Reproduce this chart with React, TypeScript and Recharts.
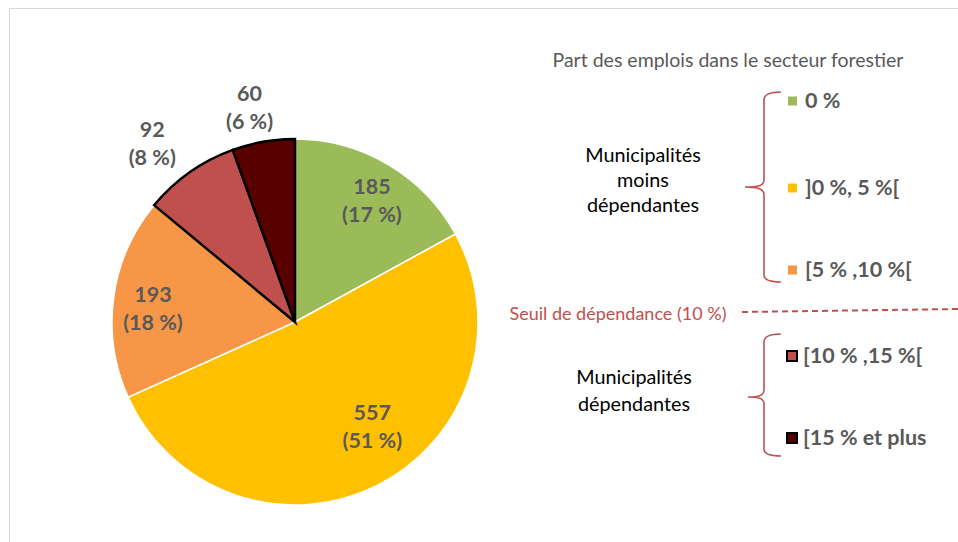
import { PieChart, Pie, Cell } from "recharts";

const categories = ["0 %", "]0 %, 5 %[", "[5 % ,10 %[", "[10 % ,15 %[", "[15 % et plus"];
const counts = [185, 557, 193, 92, 60];
const colors = ["#9BBB59", "#FFC000", "#F79646", "#C0504D", "#580000"];
const strokes = ["#ffffff", "#ffffff", "#ffffff", "#000000", "#000000"];
// label distance from centre (share of radius) and angle nudge, Excel best-fit look
const labelRadius = [0.79, 0.71, 0.78, 1.25, 1.2];
const labelShift = [-1.5, 10, 2, 3.5, 2];

const legendTitle = "Part des emplois dans le secteur forestier";
const groupLow = ["Municipalités", "moins", "dépendantes"];
const groupHigh = ["Municipalités", "dépendantes"];
const thresholdLabel = "Seuil de dépendance (10 %)";

const total = counts.reduce((a, b) => a + b, 0);
const data = categories.map((name, i) => ({ name, value: counts[i] }));

const FONT = "Lato, 'Open Sans', sans-serif";
const RAD = Math.PI / 180;
const BRACE = "#C0504D";

const renderLabel = (props: any) => {
  const { cx, cy, midAngle, outerRadius, index, value } = props;
  const r = outerRadius * labelRadius[index];
  const a = (midAngle + labelShift[index]) * RAD;
  const x = cx + r * Math.cos(-a);
  const y = cy + r * Math.sin(-a);
  const pct = Math.round((value / total) * 100);
  return (
    <text
      x={x}
      y={y}
      textAnchor="middle"
      fontFamily={FONT}
      fontWeight={700}
      fontSize={21.5}
      fill="#595959"
    >
      <tspan x={x} dy={-6}>{value}</tspan>
      <tspan x={x} dy={28}>({pct} %)</tspan>
    </text>
  );
};

function Legend() {
  const rows = [101, 188, 270, 356, 438];
  return (
    <svg
      width={958}
      height={542}
      style={{ position: "absolute", left: 0, top: 0, pointerEvents: "none" }}
    >
      <text x={728} y={67} textAnchor="middle" fontFamily={FONT} fontSize={19.5} fill="#595959">
        {legendTitle}
      </text>

      {/* upper brace */}
      <path
        d="M781,92 C770,92 764,94 764,100 L764,180 C764,186 758,187 745,187 C758,187 764,189 764,195 L764,275 C764,280 770,282 781,282"
        fill="none"
        stroke={BRACE}
        strokeWidth={1.6}
      />
      {/* lower brace */}
      <path
        d="M781,334 C770,334 764,336 764,342 L764,390 C764,396 758,397 748,397 C758,397 764,398 764,404 L764,449 C764,454 770,456 781,456"
        fill="none"
        stroke={BRACE}
        strokeWidth={1.6}
      />

      {groupLow.map((t, i) => (
        <text key={t} x={643} y={162 + i * 25} textAnchor="middle" fontFamily={FONT} fontSize={19.8} fill="#000">
          {t}
        </text>
      ))}
      {groupHigh.map((t, i) => (
        <text key={t} x={634} y={384 + i * 27} textAnchor="middle" fontFamily={FONT} fontSize={19.8} fill="#000">
          {t}
        </text>
      ))}

      <text x={618} y={320} textAnchor="middle" fontFamily={FONT} fontSize={18} fill={BRACE}>
        {thresholdLabel}
      </text>
      <line x1={742} y1={312} x2={958} y2={309} stroke={BRACE} strokeWidth={2} strokeDasharray="6 4" />

      {categories.map((c, i) => {
        const boxed = i >= 3;
        const size = boxed ? 10 : 9;
        return (
          <g key={c}>
            <rect
              x={boxed ? 787 : 788}
              y={rows[i] - size / 2}
              width={size}
              height={size}
              fill={colors[i]}
              stroke={boxed ? "#000" : "none"}
              strokeWidth={2}
            />
            <text x={boxed ? 803 : 805} y={rows[i] + 7} fontFamily={FONT} fontWeight={700} fontSize={21.5} fill="#595959">
              {c}
            </text>
          </g>
        );
      })}
    </svg>
  );
}

export default function App() {
  return (
    <div style={{ position: "absolute", left: 0, top: 0, width: 958, height: 542, background: "#fff", overflow: "hidden" }}>
      <div
        style={{
          position: "absolute",
          left: 9,
          top: 8,
          width: 1000,
          height: 600,
          border: "1.5px solid #d9d9d9",
        }}
      />
      <div style={{ position: "absolute", left: 0, top: 0 }}>
        <PieChart width={958} height={542} margin={{ top: 0, right: 0, bottom: 0, left: 0 }}>
          <Pie
            data={data}
            dataKey="value"
            nameKey="name"
            cx={295}
            cy={322}
            outerRadius={183}
            startAngle={90}
            endAngle={-270}
            labelLine={false}
            label={renderLabel}
            isAnimationActive={false}
          >
            {data.map((d, i) => (
              <Cell key={d.name} fill={colors[i]} stroke={strokes[i]} strokeWidth={i >= 3 ? 2.5 : 1.5} />
            ))}
          </Pie>
        </PieChart>
      </div>
      <Legend />
    </div>
  );
}
